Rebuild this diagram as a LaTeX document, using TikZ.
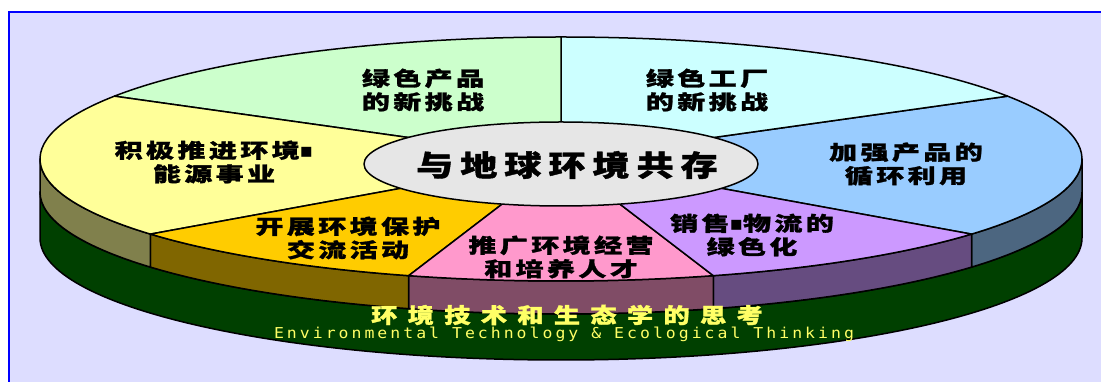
\documentclass[tikz,border=0pt]{standalone}
\usepackage{fontspec}
\newfontfamily\cjkA{Noto Sans CJK SC}[FakeStretch=1.4,LetterSpace=17,BoldFeatures={FakeBold=1.4}]
\newfontfamily\cjkC{Noto Sans CJK SC}[FakeStretch=1.28,LetterSpace=24,BoldFeatures={FakeBold=1.4}]
\newfontfamily\cjkB{Noto Sans CJK SC}[FakeStretch=1.25,LetterSpace=49,BoldFeatures={FakeBold=1.4}]
\newfontfamily\enmono{DejaVu Sans Mono}[FakeStretch=1.1,LetterSpace=20]
\newfontfamily\sqfont{DejaVu Sans}
\newcommand\sq{{\sqfont\bfseries ▪}}
\definecolor{lav}{HTML}{DDDDFF}
\definecolor{gbase}{HTML}{004000}
\definecolor{tgreen}{HTML}{CCFFCC}
\definecolor{tcyan}{HTML}{CCFFFF}
\definecolor{tblue}{HTML}{99CCFF}
\definecolor{tpurple}{HTML}{CC99FF}
\definecolor{tpink}{HTML}{FF99CC}
\definecolor{torange}{HTML}{FFCC00}
\definecolor{tyellow}{HTML}{FFFF99}
\definecolor{sblue}{HTML}{4C6680}
\definecolor{spurple}{HTML}{664C80}
\definecolor{spink}{HTML}{804C66}
\definecolor{sorange}{HTML}{806600}
\definecolor{syellow}{HTML}{80804C}
\definecolor{cgray}{HTML}{E6E6E6}
\definecolor{ytext}{HTML}{FFFF66}
\begin{document}
\begin{tikzpicture}[x=1pt,y=1pt,
  outl/.style={draw=black,line width=1.5pt,line join=round},
  lab/.style={align=center,inner sep=0pt,font=\cjkA\bfseries\fontsize{20}{23.5}\selectfont}]
\useasboundingbox (0,0) rectangle (1101,382);
\clip (0,0) rectangle (1101,382);
\fill[white] (0,0) rectangle (1101,382);
\filldraw[fill=lav,draw=blue,line width=2pt] (9,-20) rectangle (1130,370);
% green base
\filldraw[outl,fill=gbase] (40,190) arc[start angle=180,end angle=360,x radius=521,y radius=122]
  -- (1082,144) arc[start angle=360,end angle=180,x radius=521,y radius=122] -- cycle;
% sides
\foreach \a/\b/\c in {322/360/sblue,287/322/spurple,253/287/spink,218/253/sorange,180/218/syellow}{
  \filldraw[outl,fill=\c] ([shift={(561,223)}]\a:521 and 122)
    arc[start angle=\a,end angle=\b,x radius=521,y radius=122] -- ++(0,-33)
    arc[start angle=\b,end angle=\a,x radius=521,y radius=122] -- cycle;
}
% top slices
\foreach \a/\b/\c in {-38/31/tblue,31/90/tcyan,90/149/tgreen,149/218/tyellow,218/253/torange,253/287/tpink,287/322/tpurple}{
  \filldraw[outl,fill=\c] (561,223) -- ([shift={(561,223)}]\a:521 and 122)
    arc[start angle=\a,end angle=\b,x radius=521,y radius=122] -- cycle;
}
% centre ellipse
\filldraw[outl,fill=cgray] (561,218) ellipse[x radius=197,y radius=42];
\node[inner sep=0pt,font=\cjkC\bfseries\fontsize{29}{32}\selectfont] (centre) at (567,217) {与地球环境共存};
% labels
\node[lab] (gp) at (423,292) {绿色产品\\的新挑战};
\node[lab] (gf) at (707,292) {绿色工厂\\的新挑战};
\node[lab] (rc) at (906,218) {加强产品的\\循环利用};
\node[lab] (en) at (214,220) {积极推进环境\sq\\能源事业};
\node[lab] (ex) at (348,144) {开展环境保护\\交流活动};
\node[lab] (hr) at (561,125) {推广环境经营\\和培养人才};
\node[lab] (lg) at (752,147) {销售\sq 物流的\\绿色化};
\node[inner sep=0pt,text=ytext,font=\cjkB\bfseries\fontsize{21}{24}\selectfont] (bt) at (567,67) {环境技术和生态学的思考};
\node[inner sep=0pt,text=ytext,font=\enmono\fontsize{15}{16}\selectfont] (be) at (564,48) {Environmental Technology \& Ecological Thinking};
\end{tikzpicture}
\end{document}
